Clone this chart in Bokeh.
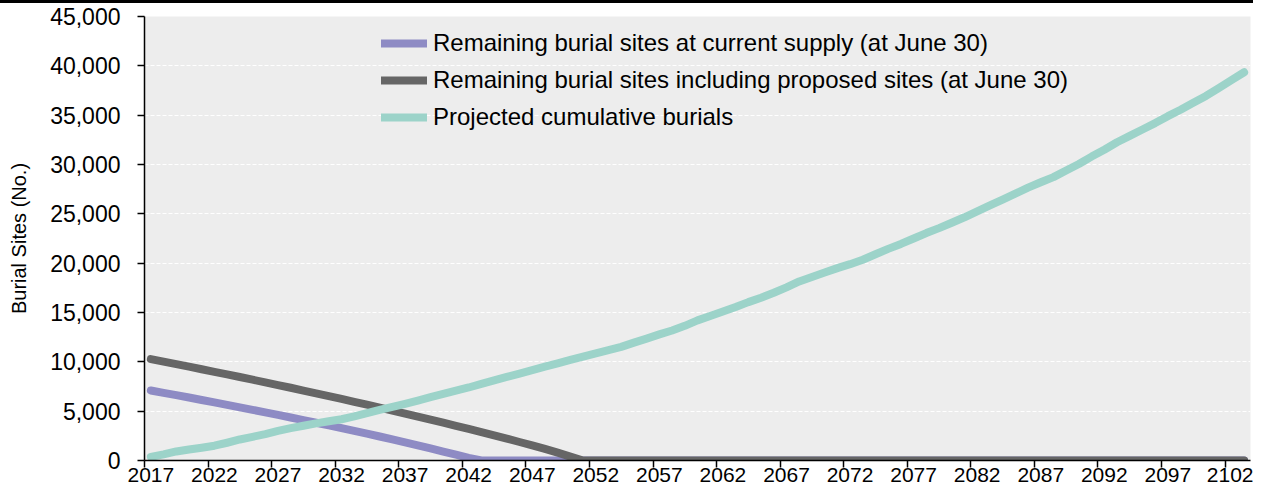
from bokeh.plotting import figure
from bokeh.layouts import column
from bokeh.models import FixedTicker, NumeralTickFormatter, Range1d, Legend, LegendItem, Div
from bokeh.embed import file_html
from bokeh.resources import INLINE

years = list(range(2017, 2104))

current_supply = [
    7100, 6860, 6620, 6380, 6135, 5890, 5640, 5390, 5135, 4880,
    4620, 4360, 4095, 3830, 3560, 3285, 3005, 2720, 2430, 2135,
    1835, 1530, 1220, 905, 585, 260, 0,
    0, 0, 0, 0, 0, 0, 0, 0, 0, 0, 0, 0, 0, 0, 0, 0, 0, 0, 0, 0,
    0, 0, 0, 0, 0, 0, 0, 0, 0, 0, 0, 0, 0, 0, 0, 0, 0, 0, 0, 0,
    0, 0, 0, 0, 0, 0, 0, 0, 0, 0, 0, 0, 0, 0, 0, 0, 0, 0, 0, 0,
]

with_proposed = [
    10270, 10020, 9765, 9510, 9250, 8990, 8725, 8460, 8190, 7920,
    7645, 7370, 7090, 6810, 6525, 6240, 5950, 5660, 5365, 5065,
    4760, 4455, 4145, 3835, 3520, 3200, 2880, 2550, 2215, 1875,
    1530, 1170, 790, 400, 0,
    0, 0, 0, 0, 0, 0, 0, 0, 0, 0, 0, 0, 0, 0, 0, 0, 0, 0, 0, 0,
    0, 0, 0, 0, 0, 0, 0, 0, 0, 0, 0, 0, 0, 0, 0, 0, 0, 0, 0, 0,
    0, 0, 0, 0, 0, 0, 0, 0, 0, 0, 0, 0,
]

cumulative_burials = [
    370, 620, 920, 1120, 1300, 1500, 1800, 2130, 2400, 2680,
    3000, 3280, 3520, 3760, 3980, 4180, 4470, 4800, 5120, 5430,
    5750, 6080, 6420, 6760, 7080, 7400, 7760, 8120, 8470, 8810,
    9160, 9510, 9850, 10190, 10530, 10860, 11190, 11520, 11950, 12350,
    12780, 13180, 13650, 14200, 14650, 15100, 15550, 16050, 16500, 17000,
    17550, 18150, 18600, 19050, 19500, 19900, 20350, 20900, 21450, 21950,
    22500, 23050, 23550, 24100, 24650, 25250, 25850, 26450, 27050, 27650,
    28200, 28720, 29400, 30050, 30800, 31500, 32250, 32900, 33550, 34200,
    34900, 35550, 36250, 36950, 37750, 38550, 39350,
]

tick_years = [2017, 2022, 2027, 2032, 2037, 2042, 2047, 2052, 2057, 2062,
              2067, 2072, 2077, 2082, 2087, 2092, 2097, 2102]
y_ticks = [0, 5000, 10000, 15000, 20000, 25000, 30000, 35000, 40000, 45000]

series_labels = [
    "Remaining burial sites at current supply (at June 30)",
    "Remaining burial sites including proposed sites (at June 30)",
    "Projected cumulative burials",
]
colors = ["#8E8BC4", "#666666", "#9CD3C9"]

FONT = "Liberation Sans"
W, H = 1253, 482

p = figure(width=W, height=H, output_backend="svg", toolbar_location=None,
           x_range=Range1d(2016.5, 2103.5), y_range=Range1d(0, 45000),
           min_border_left=144, min_border_right=3, min_border_top=13, min_border_bottom=25)

p.background_fill_color = "#EDEDED"
p.border_fill_color = "white"
p.outline_line_color = None

r1 = p.line(years, current_supply, line_color=colors[0], line_width=8, line_cap="round", line_join="round")
r2 = p.line(years, with_proposed, line_color=colors[1], line_width=8, line_cap="round", line_join="round")
r3 = p.line(years, cumulative_burials, line_color=colors[2], line_width=8, line_cap="round", line_join="round")

# grid
p.xgrid.grid_line_color = None
p.ygrid.ticker = FixedTicker(ticks=y_ticks)
p.ygrid.grid_line_color = "white"
p.ygrid.grid_line_width = 1.2
p.ygrid.grid_line_dash = "4 2"

# y axis
p.yaxis.ticker = FixedTicker(ticks=y_ticks)
p.yaxis.formatter = NumeralTickFormatter(format="0,0")
p.yaxis.minor_tick_line_color = None
p.yaxis.major_tick_in = 0
p.yaxis.major_tick_out = 7
p.yaxis.major_tick_line_width = 1.5
p.yaxis.major_tick_line_color = "black"
p.yaxis.axis_line_width = 1.5
p.yaxis.axis_line_color = "black"
p.yaxis.major_label_standoff = 17
p.yaxis.major_label_text_font = FONT
p.yaxis.major_label_text_font_size = "23px"
p.yaxis.major_label_text_color = "black"
p.yaxis.axis_label = "Burial Sites (No.)"
p.yaxis.axis_label_text_font = FONT
p.yaxis.axis_label_text_font_size = "20px"
p.yaxis.axis_label_text_font_style = "normal"
p.yaxis.axis_label_text_color = "black"
p.yaxis.axis_label_standoff = 17

# x axis: labels at category centres, tick marks at category boundaries
p.xaxis.ticker = FixedTicker(ticks=tick_years, minor_ticks=[t - 0.5 for t in tick_years])
p.xaxis.major_tick_line_color = None
p.xaxis.major_tick_in = 0
p.xaxis.major_tick_out = 0
p.xaxis.minor_tick_in = 0
p.xaxis.minor_tick_out = 7
p.xaxis.minor_tick_line_color = "black"
p.xaxis.minor_tick_line_width = 1.5
p.xaxis.axis_line_width = 1.5
p.xaxis.axis_line_color = "black"
p.xaxis.major_label_standoff = 0
p.xaxis.major_label_text_font = FONT
p.xaxis.major_label_text_font_size = "21px"
p.xaxis.major_label_text_color = "black"

legend = Legend(items=[LegendItem(label=series_labels[0], renderers=[r1]),
                       LegendItem(label=series_labels[1], renderers=[r2]),
                       LegendItem(label=series_labels[2], renderers=[r3])],
                location=(237, 329))
legend.glyph_width = 46
legend.glyph_height = 20
legend.label_height = 20
legend.label_standoff = 6
legend.spacing = 9
legend.padding = 0
legend.margin = 0
legend.border_line_color = None
legend.background_fill_alpha = 0
legend.label_text_font = FONT
legend.label_text_font_size = "24px"
legend.label_text_color = "black"
p.add_layout(legend)

top_rule = Div(text="", width=W, height=3, margin=0,
               styles={"background-color": "black"})

layout = column(top_rule, p, spacing=0)

open("out.html", "w").write(file_html(layout, INLINE))
